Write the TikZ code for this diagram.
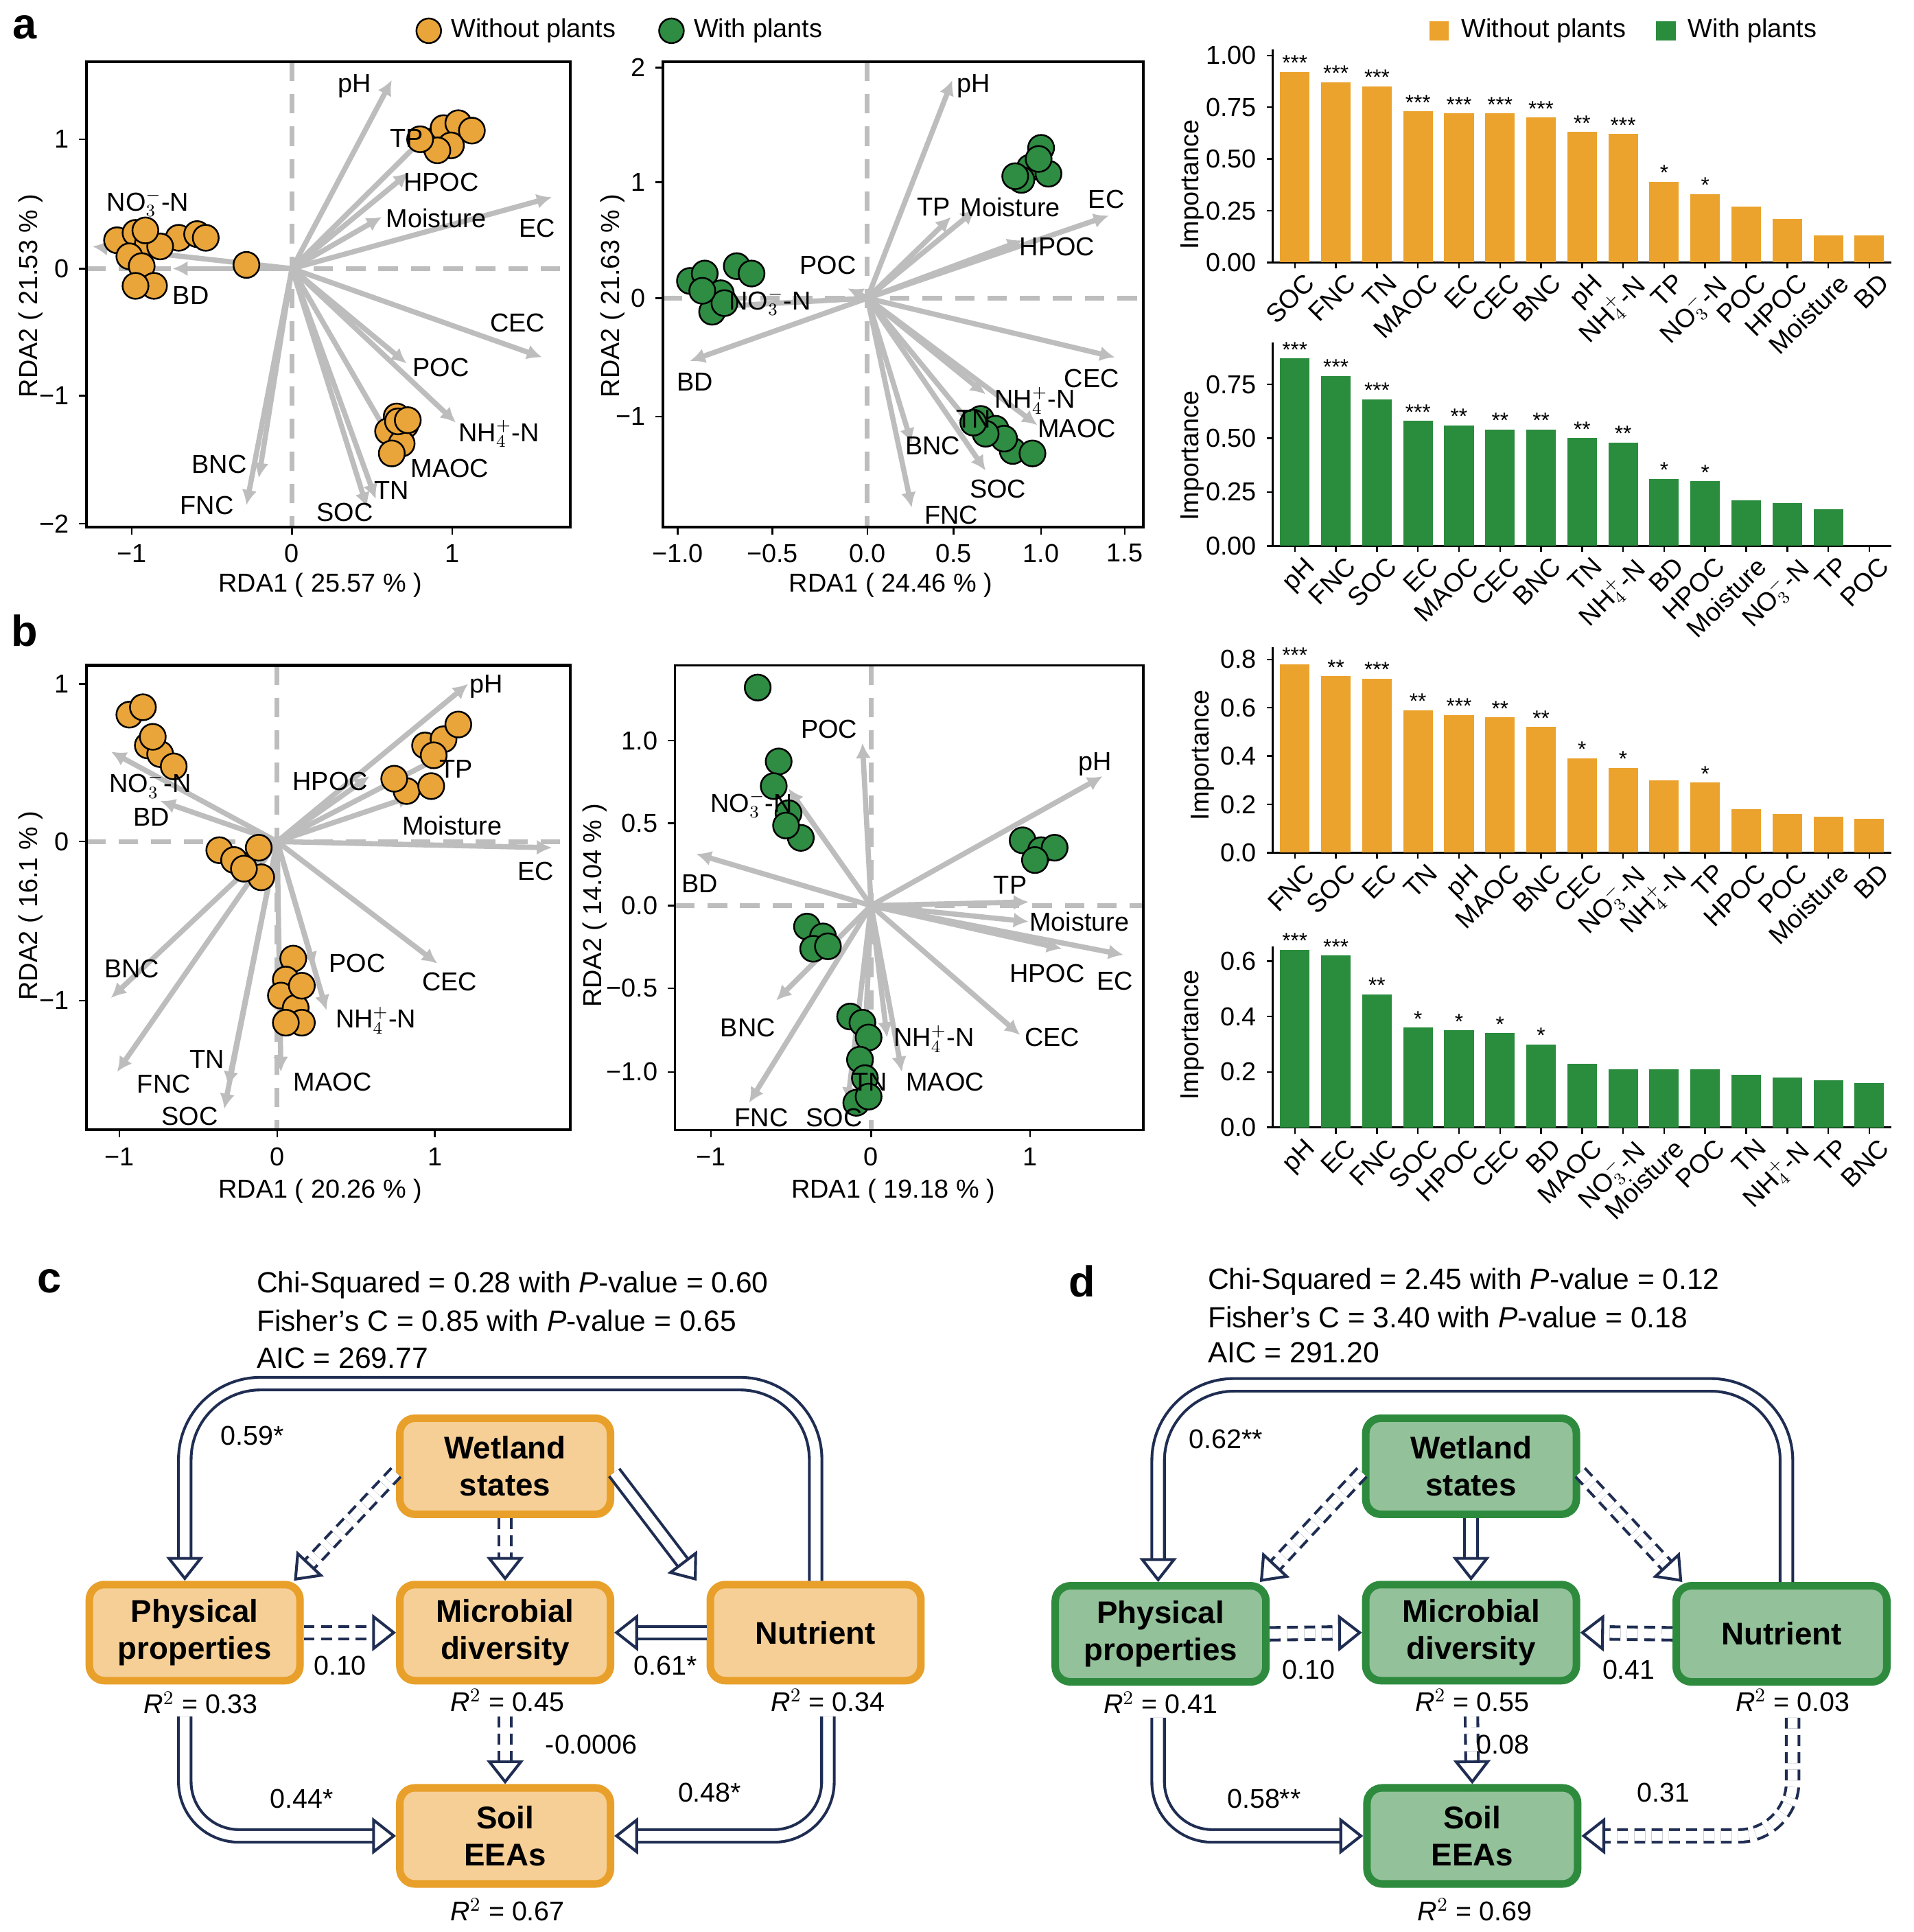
\documentclass[tikz,border=0pt]{standalone}
\usepackage{fontspec}
\setmainfont{Liberation Sans}
\usetikzlibrary{arrows.meta}
\definecolor{org}{HTML}{EBA32D}
\definecolor{grn}{HTML}{2A8C3D}
\definecolor{ptor}{HTML}{E9A53A}
\definecolor{ptgr}{HTML}{2F8C43}
\definecolor{rdag}{HTML}{BDBDBD}
\definecolor{navy}{HTML}{1F2D52}
\definecolor{bor}{HTML}{E8A02A}
\definecolor{bof}{HTML}{F6CF96}
\definecolor{bgr}{HTML}{2E8B3E}
\definecolor{bgf}{HTML}{93C19A}
\newcommand\fsz{\fontsize{12}{14}\selectfont}
\newcommand\mybars[6]{%
\draw[line width=0.8pt] (1033,#4) -- (1033,#1) -- (1535,#1);
\foreach \n/\v/\s [count=\i] in {#5} {
 \pgfmathsetmacro\bx{1051+(\i-1)*33.3}
 \fill[#3] (\bx-12,#1) rectangle (\bx+12,#1-\v*#2);
 \node[font=\fontsize{10}{10}\selectfont, above, inner sep=0.5pt] at (\bx,#1-\v*#2) {\s};
 \draw[line width=0.8pt] (\bx,#1) -- (\bx,#1+5);
 \node[rotate=45, anchor=north east, inner sep=1pt] at (\bx+7,#1+5) {\n};
}
\foreach \t in {#6} {
 \draw[line width=0.8pt] (1033,#1-\t*#2) -- (1028,#1-\t*#2);
}
}
\begin{document}
\begin{tikzpicture}[x=0.02cm,y=-0.02cm,
 every node/.style={font=\fsz},
 rda/.style={rdag, line width=2.4pt, -{Latex[length=7pt,width=7pt]}},
 zl/.style={rdag, line width=2.2pt, dash pattern=on 9pt off 6pt},
 box/.style={rounded corners=7pt, line width=3.5pt, minimum width=3.42cm, minimum height=1.56cm, align=center, font=\fontsize{14.5}{17}\selectfont\bfseries},
 hs/.style={draw=navy, line width=1.3pt, double=white, double distance=4.5pt, -{Triangle[length=11pt,width=17pt,line width=1.3pt,fill=white]}},
 hd/.style={hs, dash pattern=on 5pt off 3pt},
 st/.style={font=\fontsize{13.5}{16}\selectfont, anchor=west, inner sep=0pt},
 lab/.style={font=\fontsize{20}{24}\selectfont\bfseries},
 rl/.style={font=\fontsize{12.5}{15}\selectfont},
 sl/.style={shorten <=26*0.02cm}
]
\useasboundingbox (0,0) rectangle (1553,1568);
\fill[white] (0,0) rectangle (1553,1568);
% panel letters
\node[lab] at (20,22) {a};
\node[lab] at (20,512) {b};
\node[lab] at (40,1040) {c};
\node[lab] at (878,1040) {d};
% legends
\draw[fill=ptor, line width=0.8pt] (348,25) circle (10);
\node[anchor=west] at (360,25) {Without plants};
\draw[fill=ptgr, line width=0.8pt] (545,25) circle (10);
\node[anchor=west] at (557,25) {With plants};
\fill[org] (1160,17) rectangle (1176,33);
\node[anchor=west] at (1180,25) {Without plants};
\fill[grn] (1344,17) rectangle (1360,33);
\node[anchor=west] at (1364,25) {With plants};

% ---------- a left RDA
\draw[zl] (237,50) -- (237,428); \draw[zl] (70,218) -- (463,218);
\foreach \ex/\ey in {318/65, 352/104, 332/140, 310/176, 448/160, 75/200, 140/218, 440/290, 330/295, 370/343, 322/365, 305/405, 298/412, 210/388, 200/410}
 { \draw[rda] (237,218) -- (\ex,\ey); }
\foreach \x/\y in {350/115,360/104,372/100,383/106,366/118,355/122,341/113,95/195,110/189,120/198,105/208,115/216,125/232,110/232,145/193,160/190,167/193,130/200,200/215,118/187,322/338,329/345,315/350,326/360,318/368,323/342,331/341}
 { \draw[fill=ptor, line width=0.8pt] (\x,\y) circle (10.5); }
\foreach \lx/\ly/\t in {288/70/pH, 330/112/TP, 358/148/HPOC, 354/177/Moisture, 436/185/EC, 120/165/{NO$_3^{-}$-N}, 155/240/BD, 420/262/CEC, 358/298/POC, 405/352/{NH$_4^{+}$-N}, 365/380/MAOC, 318/398/TN, 280/416/SOC, 178/377/BNC, 168/410/FNC}
 { \node[inner sep=1pt] at (\lx,\ly) {\t}; }
\draw[line width=1.3pt] (70,50) rectangle (463,428);
\foreach \x/\t in {107/−1,237/0,367/1} { \draw[line width=0.8pt] (\x,428)--(\x,434); \node at (\x,449) {\t}; }
\foreach \y/\t in {113/1,218/0,321/−1,425/−2} { \draw[line width=0.8pt] (70,\y)--(64,\y); \node[anchor=east] at (62,\y) {\t}; }
\node at (260,475) {RDA1 ( 25.57 \% )};
\node[rotate=90] at (25,240) {RDA2 ( 21.53 \% )};

% ---------- a middle RDA
\draw[zl] (704,50) -- (704,428); \draw[zl] (538,242) -- (928,242);
\foreach \ex/\ey in {773/65,772/176,792/170,900/175,830/195,688/234,578/249,560/293,905/290,800/320,842/345,790/347,740/360,800/382,740/412}
 { \draw[rda] (704,242) -- (\ex,\ey); }
\foreach \x/\y in {845/120,836/136,851/141,829/146,843/129,824/143,560/228,572/222,585/238,598/216,610/222,578/253,588/246,570/236,796/340,808/348,822/366,838/368,815/356,800/352,790/343}
 { \draw[fill=ptgr, line width=0.8pt] (\x,\y) circle (10.5); }
\foreach \lx/\ly/\t in {790/70/pH, 758/168/TP, 820/168/Moisture, 898/162/EC, 858/200/HPOC, 672/215/POC, 625/245/{NO$_3^{-}$-N}, 564/310/BD, 886/307/CEC, 840/325/{NH$_4^{+}$-N}, 874/348/MAOC, 790/340/TN, 757/362/BNC, 810/397/SOC, 772/418/FNC}
 { \node[inner sep=1pt] at (\lx,\ly) {\t}; }
\draw[line width=1.3pt] (538,50) rectangle (928,428);
\foreach \x/\t in {550/−1.0,627/−0.5,704/0.0,774/0.5,845/1.0,913/1.5} { \draw[line width=0.8pt] (\x,428)--(\x,434); \node at (\x,449) {\t}; }
\foreach \y/\t in {55/2,148/1,242/0,338/−1} { \draw[line width=0.8pt] (538,\y)--(532,\y); \node[anchor=east] at (530,\y) {\t}; }
\node at (723,475) {RDA1 ( 24.46 \% )};
\node[rotate=90] at (497,240) {RDA2 ( 21.63 \% )};

% ---------- b left RDA
\draw[zl] (225,540) -- (225,917); \draw[zl] (70,683) -- (463,683);
\foreach \ex/\ey in {380/555,358/614,300/630,335/646,448/688,90/610,130/650,90/810,95/870,185/882,182/900,228/870,265/820,255/785,355/782}
 { \draw[rda] (225,683) -- (\ex,\ey); }
\foreach \x/\y in {105/580,116/574,120/605,130/612,141/622,124/598,345/605,360/600,372/588,352/613,330/642,350/638,320/632,178/690,190/698,210/688,212/712,198/705,238/778,232/795,228/808,240/818,245/830,232/830,245/800}
 { \draw[fill=ptor, line width=0.8pt] (\x,\y) circle (10.5); }
\foreach \lx/\ly/\t in {395/557/pH, 370/624/TP, 268/634/HPOC, 367/670/Moisture, 435/707/EC, 122/637/{NO$_3^{-}$-N}, 123/663/BD, 107/786/BNC, 133/880/FNC, 168/860/TN, 154/906/SOC, 270/878/MAOC, 305/828/{NH$_4^{+}$-N}, 290/782/POC, 365/797/CEC}
 { \node[inner sep=1pt] at (\lx,\ly) {\t}; }
\draw[line width=1.3pt] (70,540) rectangle (463,917);
\foreach \x/\t in {97/−1,225/0,353/1} { \draw[line width=0.8pt] (\x,917)--(\x,923); \node at (\x,939) {\t}; }
\foreach \y/\t in {555/1,683/0,812/−1} { \draw[line width=0.8pt] (70,\y)--(64,\y); \node[anchor=east] at (62,\y) {\t}; }
\node at (260,967) {RDA1 ( 20.26 \% )};
\node[rotate=90] at (25,735) {RDA2 ( 16.1 \% )};

% ---------- b middle RDA
\draw[zl] (707,540) -- (707,917); \draw[zl] (548,735) -- (928,735);
\foreach \ex/\ey in {700/603,640/640,565/693,895/630,835/732,835/748,862/770,912/775,828/840,732/870,720/842,700/890,688/895,608/895,630/812}
 { \draw[rda] (707,735) -- (\ex,\ey); }
\foreach \x/\y in {615/558,632/618,628/638,640/660,650/680,638/670,655/752,668/760,660/770,672/768,690/825,700/830,705/842,698/860,702/875,695/895,705/890,830/682,845/690,856/688,840/698}
 { \draw[fill=ptgr, line width=0.8pt] (\x,\y) circle (10.5); }
\foreach \lx/\ly/\t in {673/592/POC, 610/653/{NO$_3^{-}$-N}, 568/717/BD, 889/620/pH, 820/718/TP, 876/748/Moisture, 850/790/HPOC, 905/796/EC, 854/842/CEC, 767/878/MAOC, 758/843/{NH$_4^{+}$-N}, 706/878/TN, 677/907/SOC, 618/907/FNC, 607/834/BNC}
 { \node[inner sep=1pt] at (\lx,\ly) {\t}; }
\draw[line width=1pt] (548,540) rectangle (928,917);
\foreach \x/\t in {577/−1,707/0,836/1} { \draw[line width=0.8pt] (\x,917)--(\x,923); \node at (\x,939) {\t}; }
\foreach \y/\t in {601/1.0,668/0.5,735/0.0,802/−0.5,870/−1.0} { \draw[line width=0.8pt] (548,\y)--(542,\y); \node[anchor=east] at (540,\y) {\t}; }
\node at (725,967) {RDA1 ( 19.18 \% )};
\node[rotate=90] at (483,735) {RDA2 ( 14.04 \% )};

% ---------- bar charts
\mybars{213}{168}{org}{40}{SOC/.92/***, FNC/.87/***, TN/.85/***, MAOC/.73/***, EC/.72/***, CEC/.72/***, BNC/.70/***, pH/.63/**, {NH$_4^{+}$-N}/.62/***, TP/.39/*, {NO$_3^{-}$-N}/.33/*, POC/.27/{}, HPOC/.21/{}, Moisture/.13/{}, BD/.13/{}}{0,.25,.5,.75,1}
\foreach \t/\l in {0/0.00,.25/0.25,.5/0.50,.75/0.75,1/1.00} \node[anchor=east] at (1026,213-\t*168) {\l};
\node[rotate=90] at (968,150) {Importance};

\mybars{443}{174.7}{grn}{278}{pH/.87/***, FNC/.79/***, SOC/.68/***, EC/.58/***, MAOC/.56/**, CEC/.54/**, BNC/.54/**, TN/.50/**, {NH$_4^{+}$-N}/.48/**, BD/.31/*, HPOC/.30/*, Moisture/.21/{}, {NO$_3^{-}$-N}/.20/{}, TP/.17/{}, POC/0/{}}{0,.25,.5,.75}
\foreach \t/\l in {0/0.00,.25/0.25,.5/0.50,.75/0.75} \node[anchor=east] at (1026,443-\t*174.7) {\l};
\node[rotate=90] at (968,370) {Importance};

\mybars{692}{196}{org}{525}{FNC/.78/***, SOC/.73/**, EC/.72/***, TN/.59/**, pH/.57/***, MAOC/.56/**, BNC/.52/**, CEC/.39/*, {NO$_3^{-}$-N}/.35/*, {NH$_4^{+}$-N}/.30/{}, TP/.29/*, HPOC/.18/{}, POC/.16/{}, Moisture/.15/{}, BD/.14/{}}{0,.2,.4,.6,.8}
\foreach \t/\l in {0/0.0,.2/0.2,.4/0.4,.6/0.6,.8/0.8} \node[anchor=east] at (1026,692-\t*196) {\l};
\node[rotate=90] at (976,613) {Importance};

\mybars{915}{225}{grn}{768}{pH/.64/***, EC/.62/***, FNC/.48/**, SOC/.36/*, HPOC/.35/*, CEC/.34/*, BD/.30/*, MAOC/.23/{}, {NO$_3^{-}$-N}/.21/{}, Moisture/.21/{}, POC/.21/{}, TN/.19/{}, {NH$_4^{+}$-N}/.18/{}, TP/.17/{}, BNC/.16/{}}{0,.2,.4,.6}
\foreach \t/\l in {0/0.0,.2/0.2,.4/0.4,.6/0.6} \node[anchor=east] at (1026,915-\t*225) {\l};
\node[rotate=90] at (968,840) {Importance};

% ---------- panel c
\node[st] at (208,1043) {Chi-Squared = 0.28 with \textit{P}-value = 0.60};
\node[st] at (208,1072) {Fisher’s C = 0.85 with \textit{P}-value = 0.65};
\node[st] at (208,1102) {AIC = 269.77};
\node[box, draw=bor, fill=bof] (cwet) at (410,1190) {Wetland\\states};
\node[box, draw=bor, fill=bof] (cphy) at (158,1325) {Physical\\properties};
\node[box, draw=bor, fill=bof] (cmic) at (410,1325) {Microbial\\diversity};
\node[box, draw=bor, fill=bof] (cnut) at (662,1325) {Nutrient};
\node[box, draw=bor, fill=bof] (csoil) at (410,1490) {Soil\\EEAs};
\draw[hs, rounded corners=35pt] (cnut.north) -- ++(0,-160) -| ([xshift=-8*0.02cm]cphy.north);
\draw[hs] ([yshift=-5*0.02cm]cwet.east) -- ([xshift=-8*0.02cm]cnut.north west);
\draw[hs] (cnut.west) -- (cmic.east);
\draw[hd] ([yshift=-5*0.02cm]cwet.west) -- ([xshift=-8*0.02cm]cphy.north east);
\draw[hd] (cphy.east) -- (cmic.west);
\draw[hd] (cwet.south) -- (cmic.north);
\draw[hd, sl] (cmic.south) -- (csoil.north);
\draw[hs, sl, rounded corners=25pt] ([xshift=-8*0.02cm]cphy.south) |- (csoil.west);
\draw[hs, sl, rounded corners=25pt] ([xshift=10*0.02cm]cnut.south) |- (csoil.east);
\node[rl] at (205,1165) {0.59*};
\node[rl] at (276,1352) {0.10};
\node[rl] at (540,1352) {0.61*};
\node[rl] at (480,1416) {-0.0006};
\node[rl] at (245,1460) {0.44*};
\node[rl] at (576,1455) {0.48*};
\node[rl] at (163,1382) {\textit{R}$^2$ = 0.33};
\node[rl] at (412,1380) {\textit{R}$^2$ = 0.45};
\node[rl] at (672,1380) {\textit{R}$^2$ = 0.34};
\node[rl] at (412,1550) {\textit{R}$^2$ = 0.67};

% ---------- panel d
\node[st] at (980,1040) {Chi-Squared = 2.45 with \textit{P}-value = 0.12};
\node[st] at (980,1069) {Fisher’s C = 3.40 with \textit{P}-value = 0.18};
\node[st] at (980,1098) {AIC = 291.20};
\node[box, draw=bgr, fill=bgf] (dwet) at (1194,1190) {Wetland\\states};
\node[box, draw=bgr, fill=bgf] (dphy) at (942,1326) {Physical\\properties};
\node[box, draw=bgr, fill=bgf] (dmic) at (1194,1325) {Microbial\\diversity};
\node[box, draw=bgr, fill=bgf] (dnut) at (1446,1326) {Nutrient};
\node[box, draw=bgr, fill=bgf] (dsoil) at (1195,1490) {Soil\\EEAs};
\draw[hs, rounded corners=35pt] ([xshift=4*0.02cm]dnut.north) -- ++(0,-160) -| ([xshift=-2*0.02cm]dphy.north);
\draw[hs] (dwet.south) -- (dmic.north);
\draw[hd] ([yshift=-5*0.02cm]dwet.west) -- ([xshift=-8*0.02cm]dphy.north east);
\draw[hd] ([yshift=-5*0.02cm]dwet.east) -- ([xshift=8*0.02cm]dnut.north west);
\draw[hd] (dphy.east) -- (dmic.west);
\draw[hd] (dnut.west) -- (dmic.east);
\draw[hd, sl] (dmic.south) -- (dsoil.north);
\draw[hs, sl, rounded corners=25pt] ([xshift=-2*0.02cm]dphy.south) |- (dsoil.west);
\draw[hd, sl, rounded corners=25pt] ([xshift=9*0.02cm]dnut.south) |- (dsoil.east);
\node[rl] at (995,1168) {0.62**};
\node[rl] at (1062,1355) {0.10};
\node[rl] at (1322,1355) {0.41};
\node[rl] at (1220,1416) {0.08};
\node[rl] at (1026,1460) {0.58**};
\node[rl] at (1350,1455) {0.31};
\node[rl] at (942,1382) {\textit{R}$^2$ = 0.41};
\node[rl] at (1195,1380) {\textit{R}$^2$ = 0.55};
\node[rl] at (1455,1380) {\textit{R}$^2$ = 0.03};
\node[rl] at (1197,1550) {\textit{R}$^2$ = 0.69};
\end{tikzpicture}
\end{document}
